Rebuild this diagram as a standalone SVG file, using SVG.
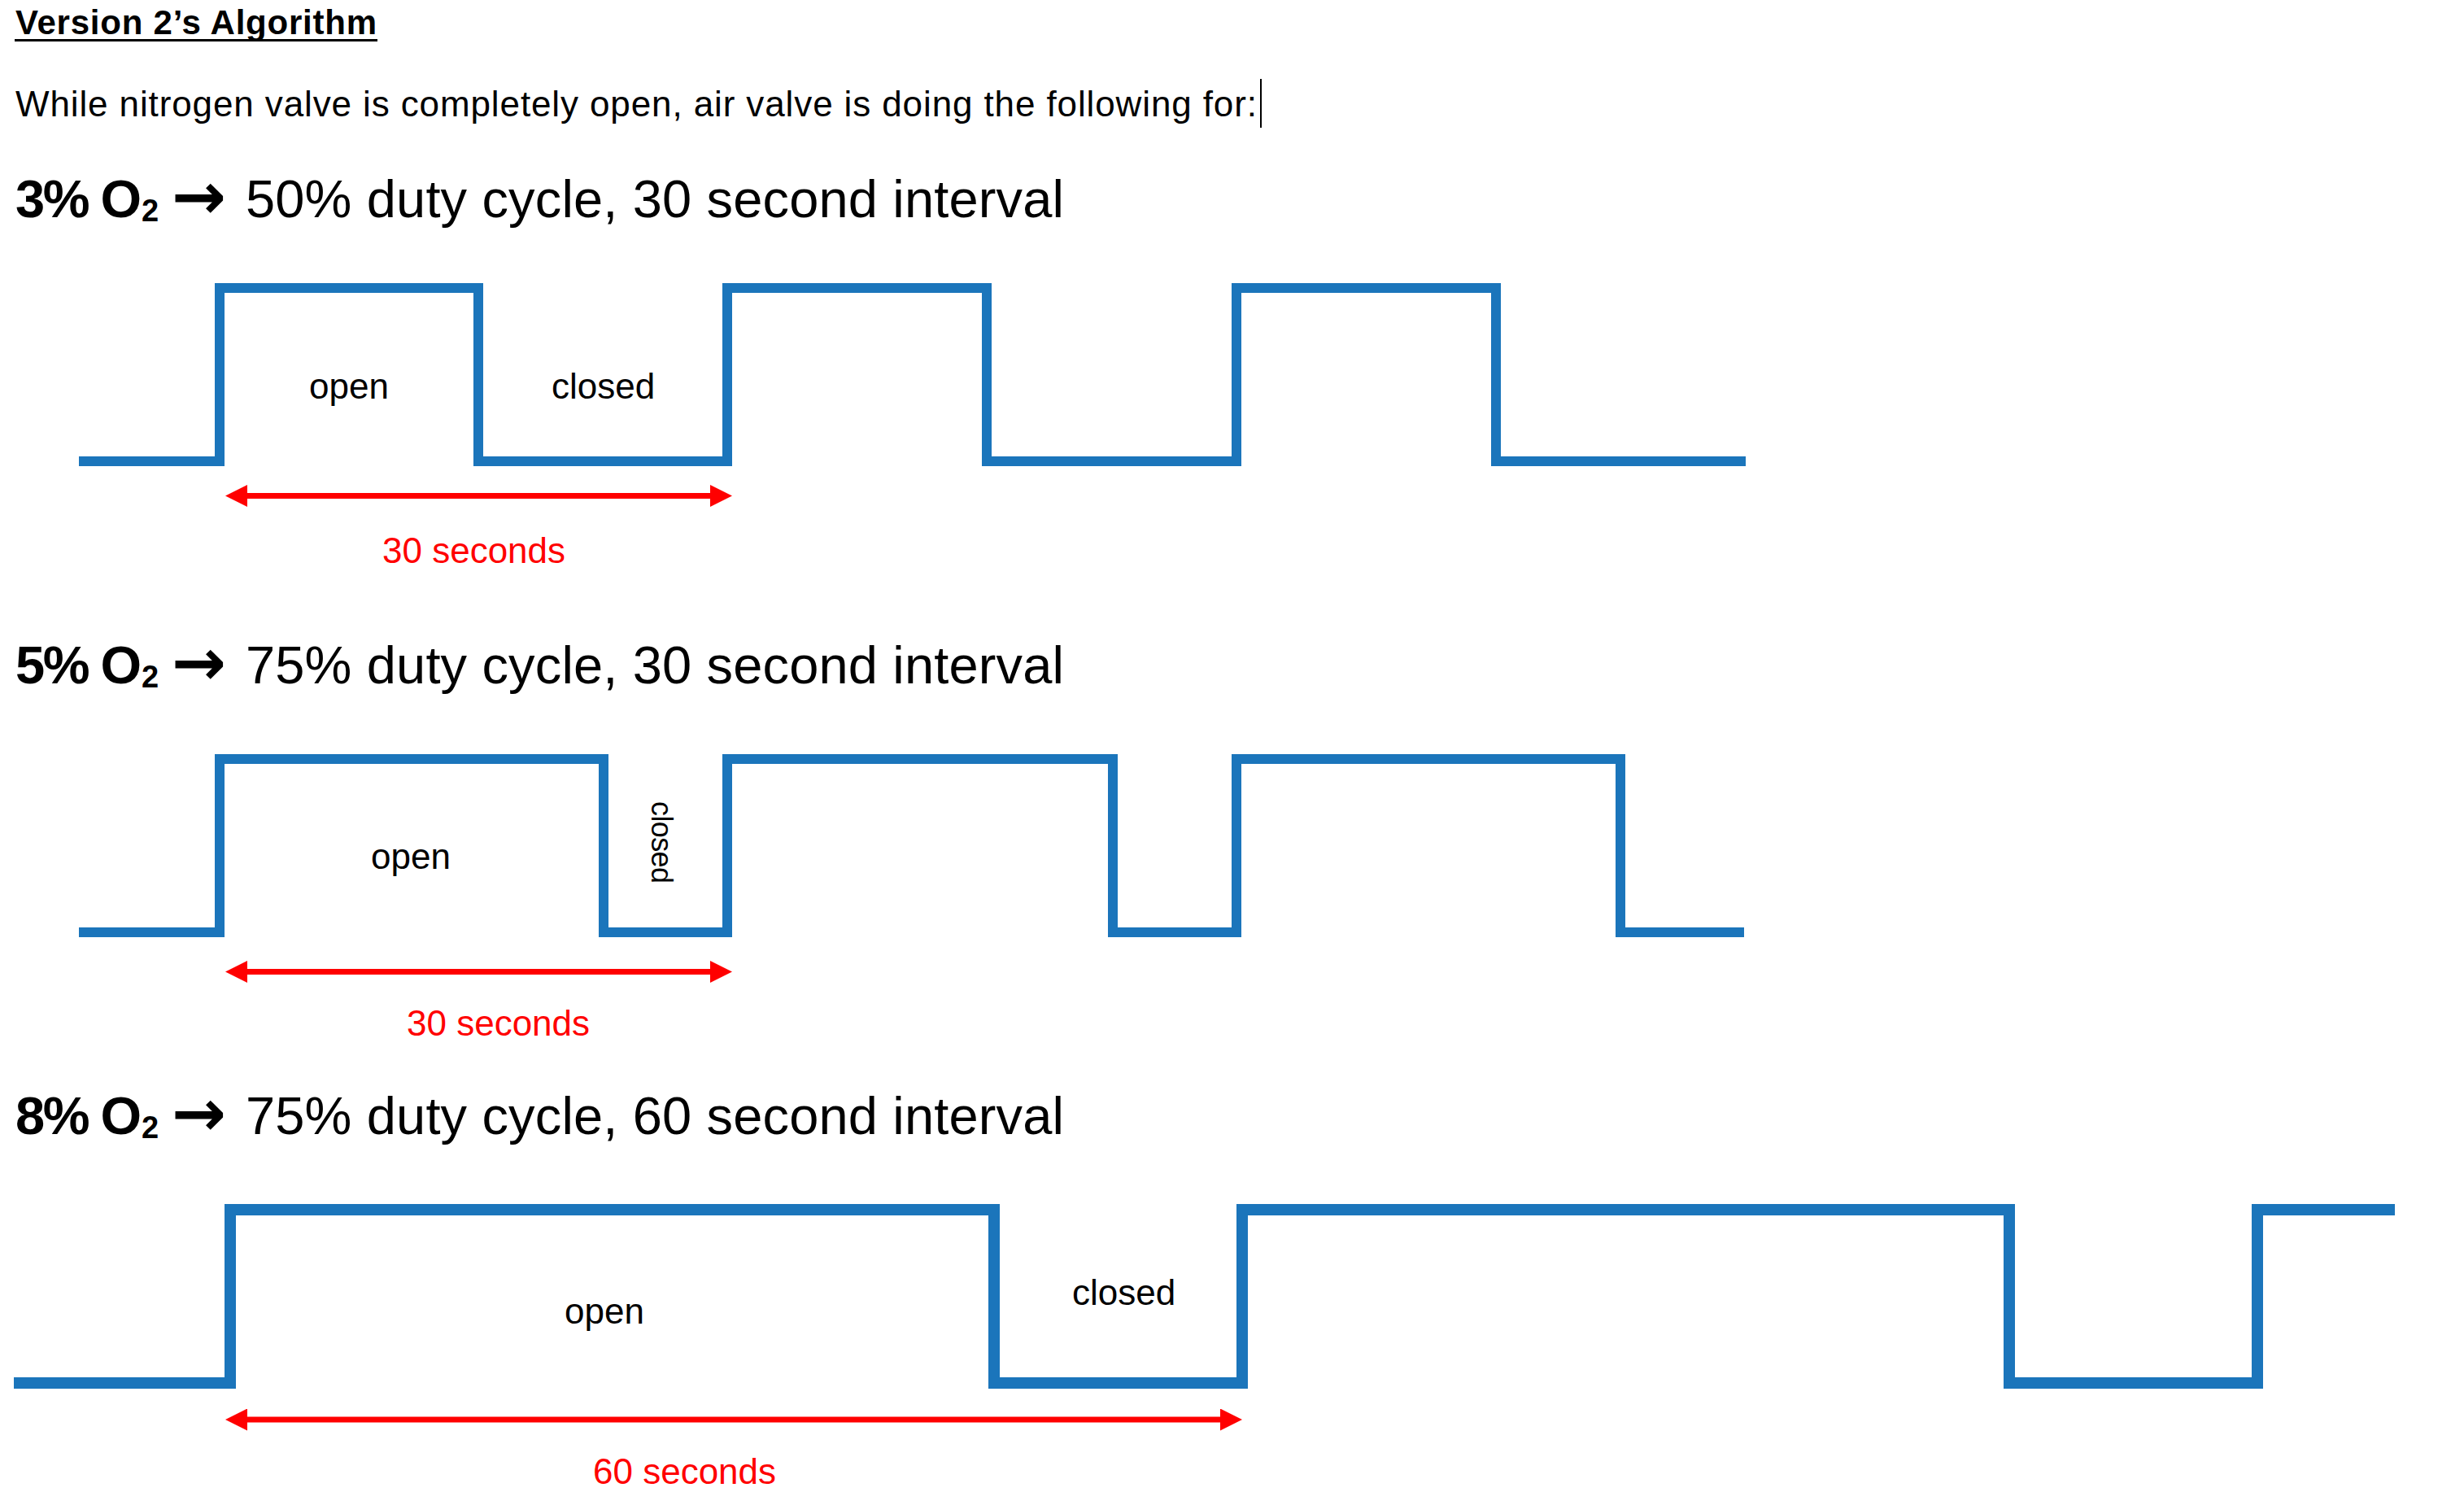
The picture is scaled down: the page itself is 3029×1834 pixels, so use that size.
<svg xmlns="http://www.w3.org/2000/svg" width="3029" height="1834" viewBox="0 0 3029 1834">
  <style>
    text { font-family: "Liberation Sans", Arial, sans-serif; fill: #000; }
    .title { font-size: 42px; font-weight: bold; }
    .body { font-size: 44px; }
    .hb { font-size: 65px; font-weight: bold; }
    .sub { font-size: 38px; font-weight: bold; }
    .arr { font-family: "DejaVu Sans", sans-serif; font-size: 80px; font-weight: bold; }
    .h { font-size: 65px; }
    .lbl { font-size: 44px; }
    .red { font-size: 44px; fill: #ff0000; }
    .wave { fill: none; stroke: #1b75bb; stroke-width: 12; stroke-linejoin: miter; stroke-linecap: butt; }
    .wave3 { stroke-width: 14; }
    .dim { stroke: #ff0000; stroke-width: 7; fill: none; marker-start: url(#ah); marker-end: url(#ah); }
  </style>
  <defs>
    <marker id="ah" markerUnits="userSpaceOnUse" markerWidth="27" markerHeight="27" viewBox="0 0 27 27" refX="14" refY="13.5" orient="auto-start-reverse">
      <path d="M0,0 L27,13.5 L0,27 z" fill="#ff0000"/>
    </marker>
  </defs>
  <rect width="3029" height="1834" fill="#ffffff"/>

  <g id="header">
    <text class="title" x="19" y="42" textLength="444">Version 2’s Algorithm</text>
    <rect x="18" y="48" width="446" height="3" fill="#000"/>
    <text class="body" x="19" y="143" textLength="1526">While nitrogen valve is completely open, air valve is doing the following for:</text>
    <line x1="1550" y1="97" x2="1550" y2="157" stroke="#000" stroke-width="2"/>
  </g>

  <g id="section-3pct">
    <text class="hb" x="19" y="267" textLength="155">3% O</text>
    <text class="sub" x="174" y="272">2</text>
    <text class="arr" x="211" y="269">→</text>
    <text class="h" x="302" y="267" textLength="1006">50% duty cycle, 30 second interval</text>
    <path class="wave" d="M97,567 H270 V354 H588 V567 H894 V354 H1213 V567 H1520 V354 H1839 V567 H2146"/>
    <text class="lbl" x="380" y="490">open</text>
    <text class="lbl" x="678" y="490">closed</text>
    <text class="red" x="470" y="692">30 seconds</text>
  </g>

  <g id="section-5pct">
    <text class="hb" x="19" y="840" textLength="155">5% O</text>
    <text class="sub" x="174" y="845">2</text>
    <text class="arr" x="211" y="842">→</text>
    <text class="h" x="302" y="840" textLength="1006">75% duty cycle, 30 second interval</text>
    <path class="wave" d="M97,1146 H270 V933 H742 V1146 H894 V933 H1368 V1146 H1520 V933 H1992 V1146 H2144"/>
    <text class="lbl" x="456" y="1068">open</text>
    <text class="lbl" transform="translate(801,985) rotate(90)" x="0" y="0" style="font-size:36px" textLength="101">closed</text>
    <text class="red" x="500" y="1273">30 seconds</text>
  </g>

  <g id="section-8pct">
    <text class="hb" x="19" y="1394" textLength="155">8% O</text>
    <text class="sub" x="174" y="1399">2</text>
    <text class="arr" x="211" y="1396">→</text>
    <text class="h" x="302" y="1394" textLength="1006">75% duty cycle, 60 second interval</text>
    <path class="wave wave3" d="M17,1700 H283 V1487 H1222 V1700 H1527 V1487 H2470 V1700 H2775 V1487 H2944"/>
    <text class="lbl" x="694" y="1627">open</text>
    <text class="lbl" x="1318" y="1604">closed</text>
    <text class="red" x="729" y="1824">60 seconds</text>
  </g>

  <g id="connectors">
    <line class="dim" x1="290" y1="609.5" x2="887" y2="609.5"/>
    <line class="dim" x1="290" y1="1194.5" x2="887" y2="1194.5"/>
    <line class="dim" x1="290" y1="1745" x2="1514" y2="1745"/>
  </g>
</svg>
